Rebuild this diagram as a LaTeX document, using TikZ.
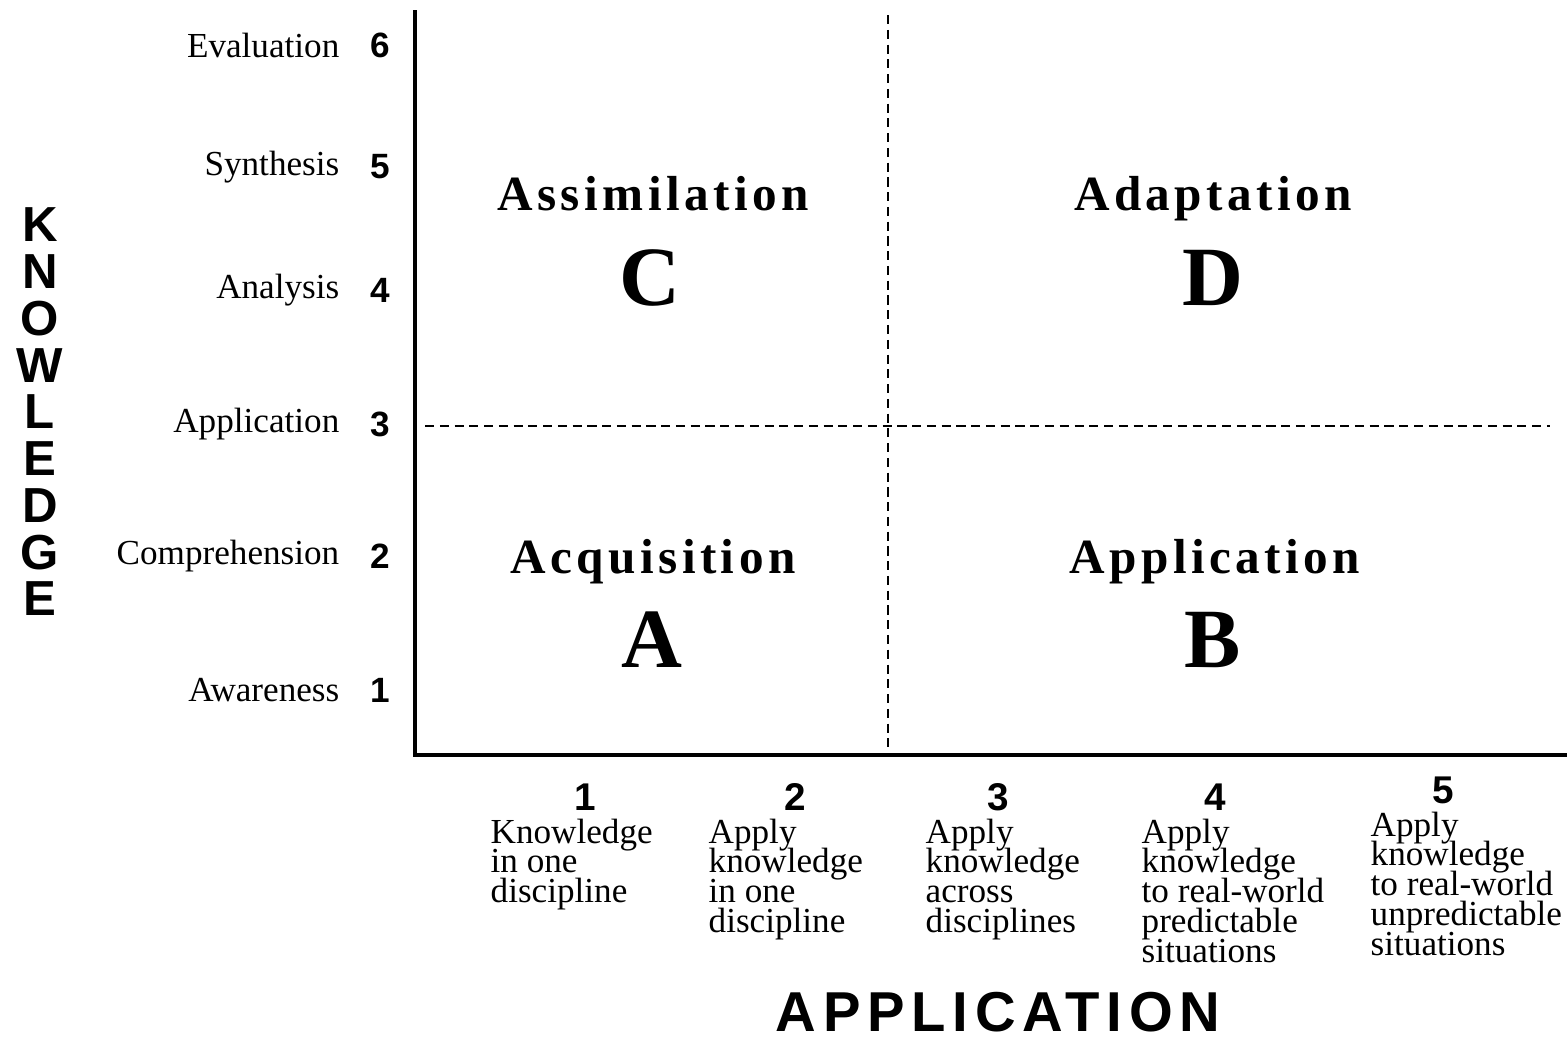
\documentclass[tikz,border=0pt]{standalone}
\usepackage{fontspec}
\setmainfont{Liberation Serif}
\setsansfont{Liberation Sans}
\newfontfamily\quadfont[LetterSpace=9]{Liberation Serif}
\newfontfamily\axisfont[LetterSpace=12]{Liberation Sans}
\usepackage{tikz}
\usepackage{xcolor}
\lineskiplimit=-20pt

\begin{document}
\begin{tikzpicture} [axisline/.style = {line width=1.4pt},
    divider/.style = {line width=0.6pt, dash pattern=on 2.6pt off 1.6pt},
    lvl/.style = {anchor=east, inner sep=0pt, font=\fontsize{10}{12}\selectfont},
    lnum/.style = {inner sep=0pt, font=\sffamily\bfseries\fontsize{10}{12}\selectfont},
    quad/.style = {anchor=base, inner sep=0pt, font=\quadfont\bfseries\fontsize{14}{16}\selectfont},
    big/.style = {anchor=base, inner sep=0pt, font=\bfseries\fontsize{24}{28}\selectfont},
    bnum/.style = {inner sep=0pt, font=\sffamily\bfseries\fontsize{11}{13}\selectfont},
    desc/.style = {anchor=north west, inner sep=0pt, align=left, font=\fontsize{10}{8.5}\selectfont}]
    \useasboundingbox (0,0) rectangle (15.67,10.38);

    % axes
    \coordinate (o) at (4.15,2.83);
    \coordinate (top) at (4.15,10.28);
    \coordinate (right) at (15.67,2.83);
    \draw[axisline] (top) -- (o) -- (right);

    % quadrant dividers
    \coordinate (vtop) at (8.88,10.23);
    \coordinate (vbot) at (8.88,2.83);
    \coordinate (hleft) at (4.25,6.12);
    \coordinate (hright) at (15.50,6.12);
    \draw[divider] (vtop) -- (vbot);
    \draw[divider] (hleft) -- (hright);

    % knowledge levels
    \node[lvl] (l6) at (3.40,9.93) {Evaluation};
    \node[lvl] (l5) at (3.40,8.71) {Synthesis};
    \node[lvl] (l4) at (3.40,7.48) {Analysis};
    \node[lvl] (l3) at (3.40,6.14) {Application};
    \node[lvl] (l2) at (3.40,4.82) {Comprehension};
    \node[lvl] (l1) at (3.40,3.48) {Awareness};
    \node[lnum] (n6) at (3.80,9.93) {6};
    \node[lnum] (n5) at (3.80,8.71) {5};
    \node[lnum] (n4) at (3.80,7.48) {4};
    \node[lnum] (n3) at (3.80,6.14) {3};
    \node[lnum] (n2) at (3.80,4.82) {2};
    \node[lnum] (n1) at (3.80,3.48) {1};

    \node[align=center, inner sep=0pt, font=\sffamily\bfseries\fontsize{14}{13.3}\selectfont] (know) at (0.40,6.26)
        {K\\N\\O\\W\\L\\E\\D\\G\\E};

    % quadrants
    \node[quad] (qc) at (6.53,8.28) {Assimilation};
    \node[big] (c) at (6.50,7.33) {C};
    \node[quad] (qd) at (12.13,8.28) {Adaptation};
    \node[big] (d) at (12.13,7.33) {D};
    \node[quad] (qa) at (6.53,4.65) {Acquisition};
    \node[big] (a) at (6.52,3.71) {A};
    \node[quad] (qb) at (12.15,4.65) {Application};
    \node[big] (b) at (12.13,3.71) {B};

    % application levels
    \node[bnum] (m1) at (5.85,2.41) {1};
    \node[bnum] (m2) at (7.95,2.41) {2};
    \node[bnum] (m3) at (9.98,2.41) {3};
    \node[bnum] (m4) at (12.15,2.41) {4};
    \node[bnum] (m5) at (14.43,2.48) {5};
    \node[desc] (d1) at (4.90,2.20) {Knowledge\\in one\\discipline};
    \node[desc] (d2) at (7.08,2.20) {Apply\\knowledge\\in one\\discipline};
    \node[desc] (d3) at (9.25,2.20) {Apply\\knowledge\\across\\disciplines};
    \node[desc] (d4) at (11.41,2.20) {Apply\\knowledge\\to real-world\\predictable\\situations};
    \node[desc] (d5) at (13.70,2.27) {Apply\\knowledge\\to real-world\\unpredictable\\situations};

    \node[anchor=base, inner sep=0pt, font=\axisfont\bfseries\fontsize{16}{19}\selectfont] (app) at (9.98,0.07) {APPLICATION};

  \end{tikzpicture}
\end{document}
